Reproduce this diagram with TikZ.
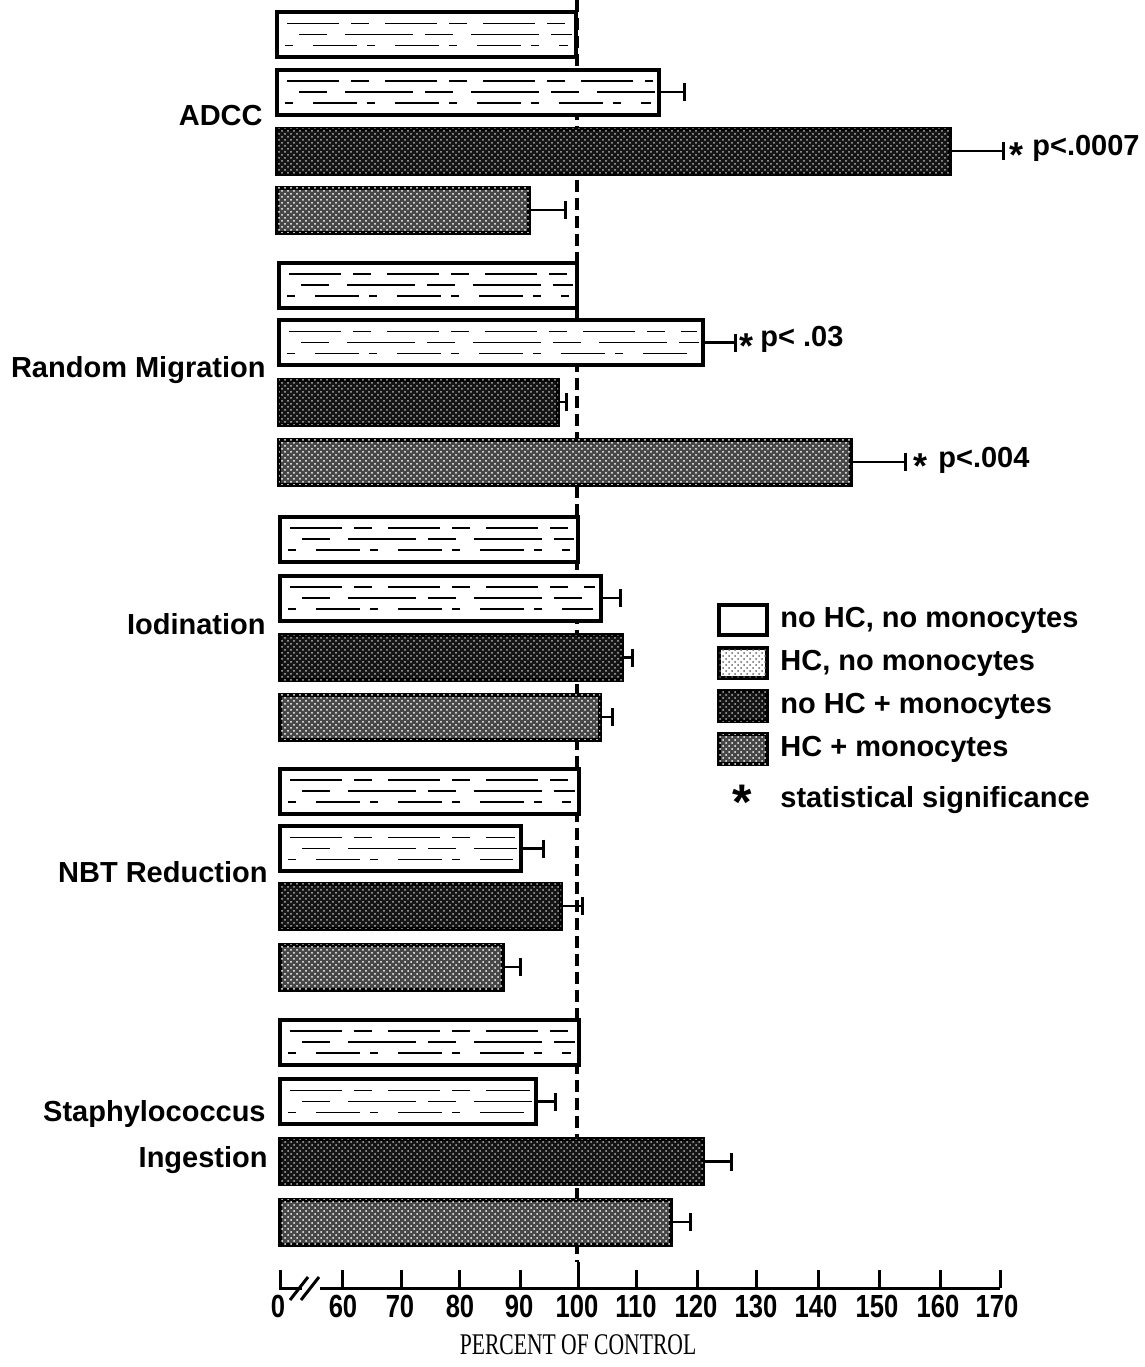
\documentclass[tikz,border=0pt]{standalone}
\usepackage{fontspec}
\setmainfont{Liberation Sans}
\newfontfamily\axisserif{Liberation Serif}
\usetikzlibrary{patterns,arrows.meta}
\tikzset{
  barbase/.style={draw=black, line width=2pt, inner sep=0pt, minimum height=22.5pt, anchor=west},
  barA/.style={barbase, fill=white},
  barB/.style={barbase, fill=white},
  barC/.style={barbase, fill=black!92, postaction={pattern=crosshatch dots, pattern color=white!70!black}},
  barD/.style={barbase, fill=black!72, postaction={pattern=crosshatch dots, pattern color=white}},
  streak/.style={line width=0.8pt, dash pattern=on 26pt off 6pt on 9pt off 8pt},
  err/.style={line width=1.3pt, -{Bar[width=9pt, line width=1.6pt]}},
  refline/.style={line width=1.6pt, dash pattern=on 6pt off 3pt},
  grouplabel/.style={font=\bfseries\fontsize{14.5}{16}\selectfont, anchor=east, inner sep=0pt, text height=0.72em, text depth=0pt},
  legtext/.style={font=\bfseries\fontsize{14.5}{16}\selectfont, anchor=west, inner sep=0pt, text height=0.72em, text depth=0pt},
  ptext/.style={font=\bfseries\fontsize{14.5}{16}\selectfont, anchor=west, inner sep=0pt, text height=0.72em, text depth=0pt},
  sigstar/.style={font=\bfseries\fontsize{18}{20}\selectfont, anchor=base, inner sep=0pt},
  ticklab/.style={font=\bfseries\fontsize{16}{18}\selectfont, inner sep=0pt, text height=0.72em, text depth=0pt},
  axistitle/.style={font=\axisserif\fontsize{15}{17}\selectfont, inner sep=0pt, text height=0.66em, text depth=0pt},
  axisline/.style={line width=1.5pt},
  legbox/.style={minimum width=24pt, minimum height=15pt, anchor=center}
}
\newcommand\mkbar[5]{\node[#2, minimum width={(#4-#3)*0.5pt}] (#1) at (#3,#5) {};}
\newcommand\mkstreaks[1]{%
  \draw[streak] ([xshift=6pt,yshift=5.5pt]#1.west) -- ([xshift=-4pt,yshift=5.5pt]#1.east);
  \draw[streak, dash pattern=on 14pt off 9pt on 34pt off 6pt] ([xshift=12pt]#1.west) -- ([xshift=-3pt]#1.east);
  \draw[streak, dash pattern=on 4pt off 10pt on 22pt off 5pt] ([xshift=5pt,yshift=-5.5pt]#1.west) -- ([xshift=-5pt,yshift=-5.5pt]#1.east);}
\newcommand\mkerr[3]{\coordinate (#1e) at (#2,#3); \draw[err] (#1.east) -- (#1e);}
\begin{document}
\begin{tikzpicture}[x=0.5pt, y={(0pt,-0.5pt)}]
\useasboundingbox (0,0) rectangle (1145,1367);

% reference line at 100 %
\coordinate (reftop) at (577,0);
\coordinate (refbot) at (577,1262);
\draw[refline] (reftop) -- (refbot);

% ---- ADCC
\mkbar{b11}{barA}{275}{574}{34.5}
\mkbar{b12}{barB}{275}{657}{92}
\mkbar{b13}{barC}{275}{948}{151}
\mkbar{b14}{barD}{275}{527}{210}
\mkstreaks{b11}\mkstreaks{b12}
\mkerr{b12}{686}{92}
\mkerr{b13}{1005}{151}
\mkerr{b14}{567}{210}
\node[sigstar] (s13) at (1016,167) {*};
\node[ptext] (p13) at (1032,148) {p<.0007};

% ---- Random Migration
\mkbar{b21}{barA}{277}{575}{285}
\mkbar{b22}{barB}{277}{701}{342.5}
\mkbar{b23}{barC}{277}{556}{402}
\mkbar{b24}{barD}{277}{849}{462}
\mkstreaks{b21}\mkstreaks{b22}
\mkerr{b22}{737}{342.5}
\mkerr{b23}{568}{402}
\mkerr{b24}{907}{462}
\node[sigstar] (s22) at (746,358.5) {*};
\node[ptext] (p22) at (760,339) {p< .03};
\node[sigstar] (s24) at (920,478) {*};
\node[ptext] (p24) at (938,460) {p<.004};

% ---- Iodination
\mkbar{b31}{barA}{278}{576}{539}
\mkbar{b32}{barB}{278}{599}{598}
\mkbar{b33}{barC}{278}{620}{657.5}
\mkbar{b34}{barD}{278}{598}{717}
\mkstreaks{b31}\mkstreaks{b32}
\mkerr{b32}{622}{598}
\mkerr{b33}{634}{657.5}
\mkerr{b34}{614}{717}

% ---- NBT Reduction
\mkbar{b41}{barA}{278}{577}{791}
\mkbar{b42}{barB}{278}{519}{848.5}
\mkbar{b43}{barC}{278}{559}{906}
\mkbar{b44}{barD}{278}{501}{967}
\mkstreaks{b41}\mkstreaks{b42}
\mkerr{b42}{545}{848.5}
\mkerr{b43}{584}{906}
\mkerr{b44}{522}{967}

% ---- Staphylococcus Ingestion
\mkbar{b51}{barA}{278}{577}{1042}
\mkbar{b52}{barB}{278}{534}{1101.5}
\mkbar{b53}{barC}{278}{701}{1161.5}
\mkbar{b54}{barD}{278}{669}{1222}
\mkstreaks{b51}\mkstreaks{b52}
\mkerr{b52}{557}{1101.5}
\mkerr{b53}{733}{1161.5}
\mkerr{b54}{692}{1222}

% ---- group labels
\node[grouplabel] (lADCC) at (263,118) {ADCC};
\node[grouplabel] (lRM) at (266,370) {Random Migration};
\node[grouplabel] (lIod) at (266,627) {Iodination};
\node[grouplabel] (lNBT) at (268,875) {NBT Reduction};
\node[grouplabel] (lSt1) at (266,1114) {Staphylococcus};
\node[grouplabel] (lSt2) at (268,1160) {Ingestion};

% ---- legend
\node[barA, legbox] (k1) at (743,620) {};
\node[barB, legbox, postaction={pattern=crosshatch dots, pattern color=black!60}] (k2) at (743,663) {};
\node[barC, legbox] (k3) at (743,706) {};
\node[barD, legbox] (k4) at (743,749) {};
\node[sigstar, font=\bfseries\fontsize{25}{26}\selectfont] (k5) at (742,819) {*};
\node[legtext] (t1) at (780,620) {no HC, no monocytes};
\node[legtext] (t2) at (780,663) {HC, no monocytes};
\node[legtext] (t3) at (780,706) {no HC + monocytes};
\node[legtext] (t4) at (780,749) {HC + monocytes};
\node[legtext] (t5) at (780,800) {statistical significance};

% ---- axis
\draw[axisline] (280,1270) -- (280,1288) -- (302,1288);
\draw[axisline] (320,1288) -- (1000,1288);
\draw[axisline] (290,1300) -- (308,1277);
\draw[axisline] (301,1300) -- (319,1277);
\foreach \xx in {342,401,459,520,636,697,756,818,879,940,1000}
  \draw[axisline] (\xx,1270) -- (\xx,1288);
\draw[axisline] (578,1262) -- (578,1288);
\foreach \xx/\lab/\nm in {278/0/a0,343/60/a60,400/70/a70,460/80/a80,519/90/a90,577/100/a100,636/110/a110,696/120/a120,756/130/a130,816/140/a140,877/150/a150,938/160/a160,997/170/a170}
  \node[ticklab] (\nm) at (\xx,1310) {\scalebox{0.8}[1]{\lab}};
\node[axistitle] (atitle) at (578,1348) {\scalebox{0.72}[1]{PERCENT OF CONTROL}};
\end{tikzpicture}
\end{document}
